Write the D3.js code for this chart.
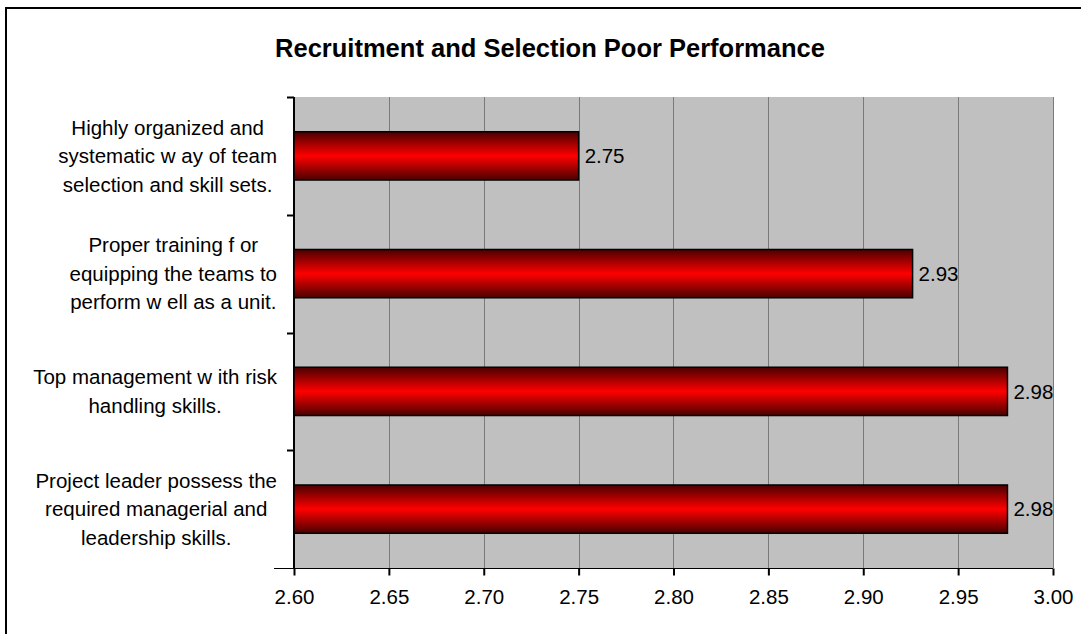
<!DOCTYPE html>
<html>
<head>
<meta charset="utf-8">
<script src="https://cdnjs.cloudflare.com/ajax/libs/d3/7.8.5/d3.min.js"></script>
<style>
  body { margin: 0; background: #fff; }
  text { font-family: Arial, "Liberation Sans", sans-serif; fill: #000; }
</style>
</head>
<body>
<script>
// chart data, top to bottom
var categories = [
  ["Highly organized and", "systematic w ay of team", "selection and skill sets."],
  ["Proper training f or", "equipping the teams to", "perform w ell as a unit."],
  ["Top management w ith risk", "handling skills."],
  ["Project leader possess the", "required managerial and", "leadership skills."]
];
var values = [2.75, 2.926, 2.976, 2.976];
var xTicks = [2.60, 2.65, 2.70, 2.75, 2.80, 2.85, 2.90, 2.95, 3.00];
var title = "Recruitment and Selection Poor Performance";

var width = 1081;
var height = 634;

var margin = {
  plot: { left: 294, right: 1053, top: 97, bottom: 568 },
  labelRight: 277
};

var svg = d3
  .select("body")
  .append("svg")
  .attr("width", width)
  .attr("height", height);

// bar gradient
var grad = svg
  .append("defs")
  .append("linearGradient")
  .attr("id", "barGrad")
  .attr("x1", 0).attr("y1", 0).attr("x2", 0).attr("y2", 1);
grad.append("stop").attr("offset", "0%").attr("stop-color", "#4a0000");
grad.append("stop").attr("offset", "50%").attr("stop-color", "#ff0000");
grad.append("stop").attr("offset", "100%").attr("stop-color", "#4a0000");

// outer frame
svg
  .append("rect")
  .attr("x", 6)
  .attr("y", 8)
  .attr("width", width + 10)
  .attr("height", height + 10)
  .attr("fill", "#fff")
  .attr("stroke", "#000")
  .attr("stroke-width", 2);

svg
  .append("text")
  .attr("x", 550)
  .attr("y", 57)
  .attr("text-anchor", "middle")
  .style("font-size", "25.5px")
  .style("font-weight", "bold")
  .text(title);

var x = d3
  .scaleLinear()
  .domain([2.6, 3.0])
  .range([margin.plot.left, margin.plot.right]);

var y = d3
  .scaleBand()
  .domain(d3.range(categories.length))
  .range([margin.plot.top, margin.plot.bottom])
  .paddingInner(0.59)
  .paddingOuter(0.295);

// plot area
svg
  .append("rect")
  .attr("x", margin.plot.left)
  .attr("y", margin.plot.top)
  .attr("width", margin.plot.right - margin.plot.left)
  .attr("height", margin.plot.bottom - margin.plot.top)
  .attr("fill", "#c0c0c0");

// gridlines
svg
  .append("g")
  .selectAll("line")
  .data(xTicks.slice(1))
  .enter()
  .append("line")
  .attr("x1", function(d) { return Math.round(x(d)) + 0.5; })
  .attr("x2", function(d) { return Math.round(x(d)) + 0.5; })
  .attr("y1", margin.plot.top)
  .attr("y2", margin.plot.bottom)
  .attr("stroke", "#7a7a7a")
  .attr("stroke-width", 1);

// x axis
var xAxis = svg
  .append("g")
  .attr("transform", "translate(0," + (margin.plot.bottom + 0.5) + ")")
  .call(
    d3
      .axisBottom(x)
      .tickValues(xTicks)
      .tickFormat(d3.format(".2f"))
      .tickSizeInner(7)
      .tickSizeOuter(0)
      .tickPadding(14)
  );
xAxis.select(".domain").attr("stroke", "#000").attr("d", "M" + (margin.plot.left - 20) + ",0H" + margin.plot.right);
xAxis.selectAll(".tick line").attr("stroke", "#000").attr("stroke-width", 2);
xAxis
  .selectAll(".tick text")
  .style("font-family", "Arial, 'Liberation Sans', sans-serif")
  .style("font-size", "20.5px")
  .attr("fill", "#000");

// y axis line and category ticks
svg
  .append("line")
  .attr("x1", margin.plot.left)
  .attr("x2", margin.plot.left)
  .attr("y1", margin.plot.top)
  .attr("y2", margin.plot.bottom)
  .attr("stroke", "#000")
  .attr("stroke-width", 2);

svg
  .append("g")
  .selectAll("line")
  .data(d3.range(categories.length))
  .enter()
  .append("line")
  .attr("x1", margin.plot.left - 7)
  .attr("x2", margin.plot.left)
  .attr("y1", function(d) { return Math.round(y(d) - y.step() * 0.295) + 0.5; })
  .attr("y2", function(d) { return Math.round(y(d) - y.step() * 0.295) + 0.5; })
  .attr("stroke", "#000")
  .attr("stroke-width", 2);

// category labels: centred block, widest line ends near the axis
var labels = svg
  .append("g")
  .selectAll("text")
  .data(categories)
  .enter()
  .append("text")
  .attr("text-anchor", "middle")
  .style("font-size", "20.5px");

labels
  .selectAll("tspan")
  .data(function(d) { return d; })
  .enter()
  .append("tspan")
  .attr("x", 0)
  .attr("y", function(d, i, nodes) {
    return (i - (nodes.length - 1) / 2) * 28.5;
  })
  .attr("dy", "0.35em")
  .text(function(d) { return d; });

labels.attr("transform", function(d, i) {
  var w = d3.max(d3.select(this).selectAll("tspan").nodes(), function(n) {
    return n.getComputedTextLength();
  });
  return "translate(" + (margin.labelRight - w / 2) + "," + (y(i) + y.bandwidth() / 2) + ")";
});

// bars
svg
  .append("g")
  .selectAll("rect")
  .data(values)
  .enter()
  .append("rect")
  .attr("x", x(2.6))
  .attr("y", function(d, i) { return y(i); })
  .attr("width", function(d) { return x(d) - x(2.6); })
  .attr("height", y.bandwidth())
  .attr("fill", "url(#barGrad)")
  .attr("stroke", "#000")
  .attr("stroke-width", 1.5);

// value labels
svg
  .append("g")
  .selectAll("text")
  .data(values)
  .enter()
  .append("text")
  .attr("x", function(d) { return x(d) + 6; })
  .attr("y", function(d, i) { return y(i) + y.bandwidth() / 2; })
  .attr("dy", "0.35em")
  .style("font-size", "20.5px")
  .text(function(d) { return d3.format(".2f")(d); });
</script>
</body>
</html>
